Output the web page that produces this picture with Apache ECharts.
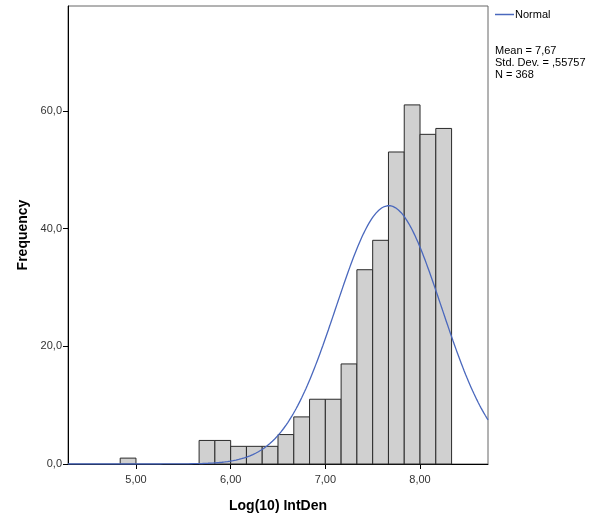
<!DOCTYPE html>
<html>
<head>
<meta charset="utf-8">
<script src="https://cdn.jsdelivr.net/npm/echarts@6/dist/echarts.min.js"></script>
<style>html,body{margin:0;padding:0;background:#fff;width:100%;height:100%;overflow:hidden}#c{width:603px;height:515px}</style>
</head>
<body>
<div id="c"></div>
<script>
// Histogram bins (left edges, width 1/6) and frequencies
const binLefts = [4.8333, 5.6667, 5.8333, 6.0, 6.1667, 6.3333, 6.5, 6.6667, 6.8333, 7.0, 7.1667, 7.3333, 7.5, 7.6667, 7.8333, 8.0, 8.1667];
const binWidth = 1 / 6;
const counts = [1, 4, 4, 3, 3, 3, 5, 8, 11, 11, 17, 33, 38, 53, 61, 56, 57];
// Normal fit parameters shown in the legend
const mean = 7.67;
const stdDev = 0.55757;
const N = 368;
const xTicks = [5, 6, 7, 8];
const yTicks = [0, 20, 40, 60];
const xMin = 4.282, xMax = 8.718, yMax = 77.8;

const FONT = "'Liberation Sans', Arial, sans-serif";

const histData = binLefts.map((l, i) => [l, l + binWidth, counts[i]]);
const normalData = [];
for (let i = 0; i <= 300; i++) {
  const x = xMin + (xMax - xMin) * i / 300;
  const z = (x - mean) / stdDev;
  normalData.push([x, N * binWidth * Math.exp(-0.5 * z * z) / (stdDev * Math.sqrt(2 * Math.PI))]);
}

const chart = echarts.init(document.getElementById('c'), null, {renderer: 'canvas', width: 603, height: 515});
chart.setOption({
  animation: false,
  backgroundColor: '#fff',
  textStyle: {fontFamily: FONT},
  grid: {left: 68, right: 115, top: 6, bottom: 51, show: true, borderColor: '#666', borderWidth: 1,
    containLabel: false, outerBoundsMode: 'none'},
  legend: {
    left: 495, top: 9, padding: 0, itemWidth: 19, itemHeight: 1.5, itemGap: 2,
    data: [{name: 'Normal', icon: 'rect', itemStyle: {color: '#4a68bd'}}],
    textStyle: {fontFamily: FONT, fontSize: 11, color: '#000', padding: [0, 0, 0, -4]}
  },
  graphic: [{
    type: 'text', left: 495, top: 45,
    style: {text: 'Mean = 7,67\nStd. Dev. = ,55757\nN = 368', font: '11px ' + FONT, fill: '#000', lineHeight: 12}
  }],
  xAxis: {
    type: 'value', min: xMin, max: xMax,
    name: 'Log(10) IntDen', nameLocation: 'middle', nameGap: 35,
    nameTextStyle: {fontFamily: FONT, fontSize: 14, fontWeight: 'bold', color: '#000'},
    axisLine: {show: true, onZero: false, lineStyle: {color: '#000', width: 1}},
    axisTick: {show: true, inside: false, length: 5, customValues: xTicks, lineStyle: {color: '#000'}},
    axisLabel: {customValues: xTicks, margin: 10, fontSize: 11, color: '#333', fontFamily: FONT,
      formatter: v => v.toFixed(2).replace('.', ',')},
    splitLine: {show: false}
  },
  yAxis: {
    type: 'value', min: 0, max: yMax,
    name: 'Frequency', nameLocation: 'middle', nameGap: 33, nameRotate: 90,
    nameTextStyle: {fontFamily: FONT, fontSize: 14, fontWeight: 'bold', color: '#000'},
    axisLine: {show: true, onZero: false, lineStyle: {color: '#000', width: 1}},
    axisTick: {show: true, inside: false, length: 5, customValues: yTicks, lineStyle: {color: '#000'}},
    axisLabel: {customValues: yTicks, margin: 6, fontSize: 11, color: '#333', fontFamily: FONT,
      formatter: v => v.toFixed(1).replace('.', ',')},
    splitLine: {show: false}
  },
  series: [{
    type: 'custom',
    name: 'Histogram',
    data: histData,
    encode: {x: [0, 1], y: 2},
    renderItem: function (params, api) {
      const p0 = api.coord([api.value(0), 0]);
      const p1 = api.coord([api.value(1), api.value(2)]);
      return {
        type: 'rect',
        shape: {x: p0[0], y: p1[1], width: p1[0] - p0[0], height: p0[1] - p1[1]},
        style: {fill: '#d0d0d0', stroke: '#2a2a2a', lineWidth: 1}
      };
    },
    z: 2
  }, {
    type: 'line',
    name: 'Normal',
    data: normalData,
    showSymbol: false,
    symbol: 'none',
    color: '#4a68bd',
    lineStyle: {color: '#4a68bd', width: 1.3},
    itemStyle: {color: '#4a68bd'},
    z: 3
  }]
});
</script>
</body>
</html>
